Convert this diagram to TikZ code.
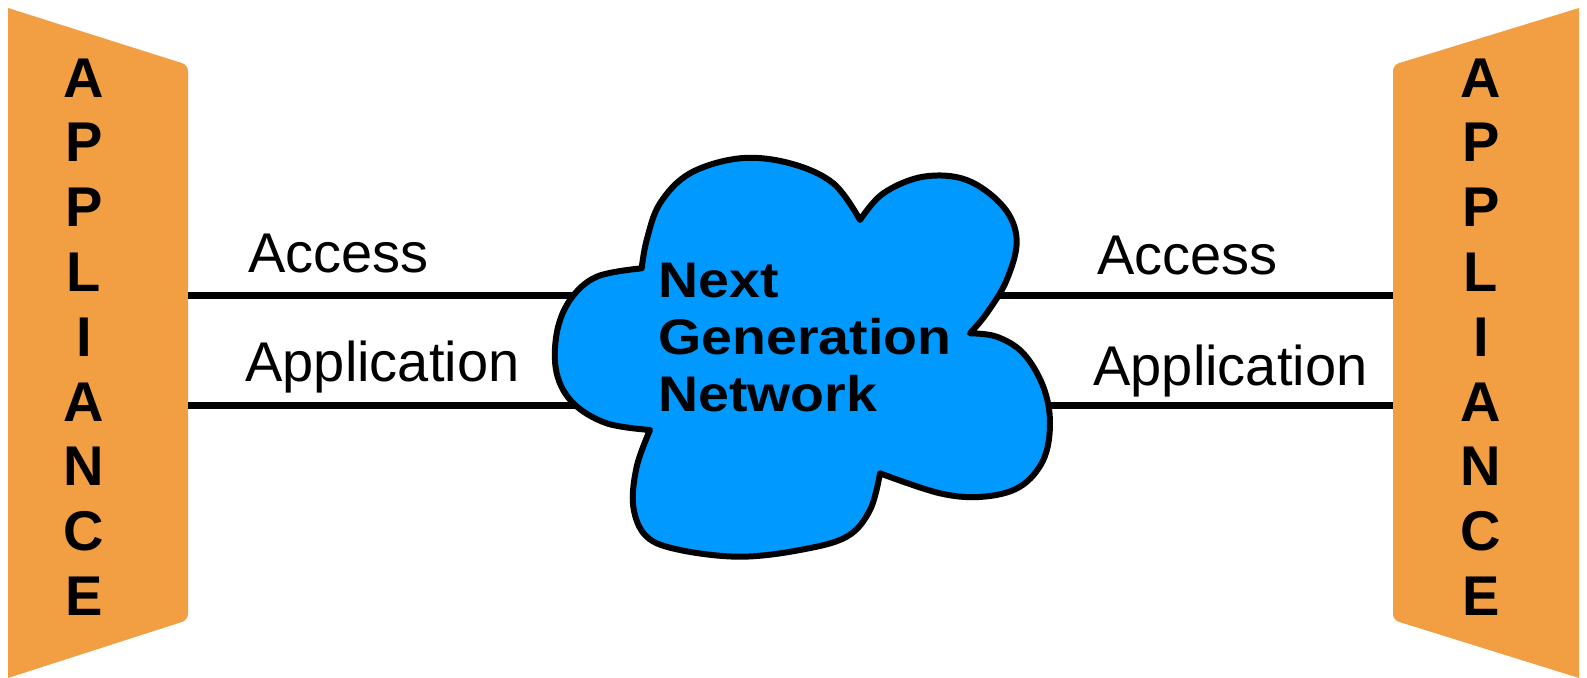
\documentclass[tikz,border=0pt]{standalone}
\usepackage{fontspec}
\setmainfont{Liberation Sans}
\newfontfamily\ngnfont[FakeStretch=1.11]{Liberation Sans}
\usetikzlibrary{positioning}
\definecolor{applorange}{RGB}{242,158,66}
\definecolor{ngnblue}{RGB}{0,153,255}
\tikzstyle{appliance} = [fill=applorange]
\tikzstyle{letters} = [align=center, inner sep=0pt, font=\bfseries\fontsize{28}{32.4}\selectfont]
\tikzstyle{label} = [anchor=base west, inner sep=0pt, font=\fontsize{28}{34}\selectfont]
\tikzstyle{ngntext} = [anchor=north west, align=left, inner sep=0pt, font=\ngnfont\bfseries\fontsize{25}{28.5}\selectfont]
\tikzstyle{line} = [draw, line width=3.5pt]
\tikzstyle{cloud} = [draw, fill=ngnblue, line width=3pt, line join=round]
\begin{document}
\begin{tikzpicture}[x=0.5pt, y=-0.5pt]
			\useasboundingbox (0,0) rectangle (1587,678);
			% appliances
			\path [appliance] (8,8) [rounded corners=3pt] -- (188,65) -- (188,620) [sharp corners] -- (8,678) -- cycle;
			\path [appliance] (1579,8) -- (1579,678) [rounded corners=3pt] -- (1393,620) -- (1393,65) [sharp corners] -- cycle;
			\node [letters] (lapp) at (84,337) {A\\P\\P\\L\\I\\A\\N\\C\\E};
			\node [letters] (rapp) at (1481,337) {A\\P\\P\\L\\I\\A\\N\\C\\E};
			% line ends
			\coordinate (lacc) at (188,296);
			\coordinate (lappl) at (188,406);
			\coordinate (racc) at (1393,296);
			\coordinate (rappl) at (1393,406);
			\coordinate (ngnlacc) at (620,296);
			\coordinate (ngnlappl) at (620,406);
			\coordinate (ngnracc) at (980,296);
			\coordinate (ngnrappl) at (1020,406);
			\path [line] (lacc) -- (ngnlacc);
			\path [line] (lappl) -- (ngnlappl);
			\path [line] (ngnracc) -- (racc);
			\path [line] (ngnrappl) -- (rappl);
			% cloud
			\path [cloud] plot [smooth, tension=0.6] coordinates {(641.7,268.3) (646.7,240) (660,203.3) (690,173.3) (740,158.3) (790,163.3) (833.3,183.3) (860,220)}
				-- plot [smooth, tension=0.6] coordinates {(860,220) (883.3,193.3) (923.3,176.7) (966.7,180) (1003.3,206.7) (1016.7,240) (1006.7,280) (986.7,313.3) (970,333.3)}
				-- plot [smooth, tension=0.6] coordinates {(970,333.3) (996.7,336.7) (1023.3,353.3) (1043.3,386.7) (1050,423.3) (1043.3,460) (1020,486.7) (983.3,496.7) (940,493.3) (880,473.3)}
				-- plot [smooth, tension=0.6] coordinates {(880,473.3) (870,510) (846.7,536.7) (800,550) (740,556.7) (680,550) (646.7,536.7) (633.3,506.7) (636.7,466.7) (650,430)}
				-- plot [smooth, tension=0.6] coordinates {(650,430) (606.7,423.3) (573.3,403.3) (556.7,373.3) (556.7,333.3) (570,300) (596.7,276.7) (641.7,268.3)}
				-- cycle;
			\node [ngntext] (ngn) at (658,263) {Next\\Generation\\Network};
			% labels
			\node [label] (laccl) at (248,273) {Access};
			\node [label] (lappll) at (245,382) {Application};
			\node [label] (raccl) at (1097,275) {Access};
			\node [label] (rappll) at (1093,386) {Application};
		\end{tikzpicture}
\end{document}
